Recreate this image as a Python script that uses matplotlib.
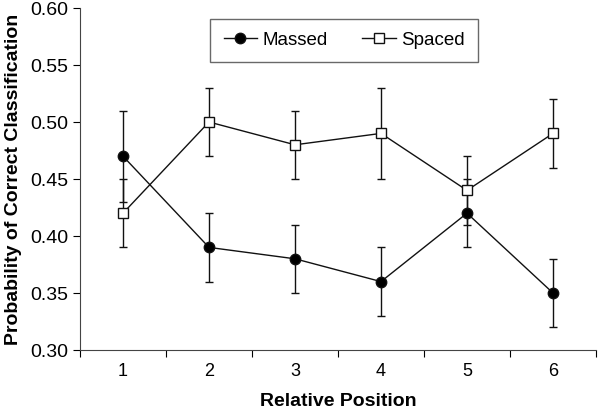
import matplotlib
matplotlib.use("Agg")
import matplotlib.pyplot as plt
from matplotlib.lines import Line2D
import numpy as np

positions = [1, 2, 3, 4, 5, 6]
massed = [0.47, 0.39, 0.38, 0.36, 0.42, 0.35]
massed_err = [0.04, 0.03, 0.03, 0.03, 0.03, 0.03]
spaced = [0.42, 0.50, 0.48, 0.49, 0.44, 0.49]
spaced_err = [0.03, 0.03, 0.03, 0.04, 0.03, 0.03]
yticks = [0.30, 0.35, 0.40, 0.45, 0.50, 0.55, 0.60]

plt.rcParams['font.family'] = ['Liberation Sans', 'DejaVu Sans']

fig = plt.figure(figsize=(6.01, 4.11), dpi=100)
ax = fig.add_axes([80/601, 1 - 350/411, (596-80)/601, (350-8)/411])

ax.errorbar(positions, massed, yerr=massed_err, color='#111111', lw=1.0,
            marker='o', markersize=7.5, markerfacecolor='black',
            capsize=3, elinewidth=1.0, capthick=1.0, zorder=3)
ax.errorbar(positions, spaced, yerr=spaced_err, color='#111111', lw=1.0,
            marker='s', markersize=7.5, markerfacecolor='white',
            capsize=3, elinewidth=1.0, capthick=1.0, zorder=3)

ax.set_xlim(0.5, 6.5)
ax.set_ylim(0.30, 0.60)
ax.set_yticks(yticks)
ax.set_yticklabels([f"{v:.2f}" for v in yticks])
ax.set_xticks(np.arange(0.5, 7.0, 1.0))
ax.set_xticklabels([])
ax.set_xticks(positions, minor=True)
ax.set_xticklabels([str(p) for p in positions], minor=True)
ax.tick_params(axis='x', which='minor', length=0, labelsize=13, pad=9)
ax.tick_params(axis='x', which='major', length=5, direction='out')
ax.tick_params(axis='y', length=5, direction='out', labelsize=14)

for s in ['top', 'right']:
    ax.spines[s].set_visible(False)
for s in ['left', 'bottom']:
    ax.spines[s].set_color('#444444')

ax.set_xlabel('Relative Position', fontsize=14, fontweight='bold', labelpad=10)
ax.set_ylabel('Probability of Correct Classification', fontsize=14, fontweight='bold', labelpad=6)

handles = [
    Line2D([], [], color='#111111', lw=1.0, marker='o', markersize=7.5, markerfacecolor='black'),
    Line2D([], [], color='#111111', lw=1.0, marker='s', markersize=7.5, markerfacecolor='white'),
]
leg = ax.legend(handles, ['Massed', 'Spaced'], loc='upper center',
                bbox_to_anchor=(0.512, 0.98), ncol=2,
                fontsize=13.5, frameon=True, fancybox=False, edgecolor='#444444',
                handlelength=1.8, columnspacing=1.8, borderpad=0.7, handletextpad=0.3,
                borderaxespad=0.2)
leg.get_frame().set_linewidth(1.0)

fig.savefig('out.png', dpi=100)
